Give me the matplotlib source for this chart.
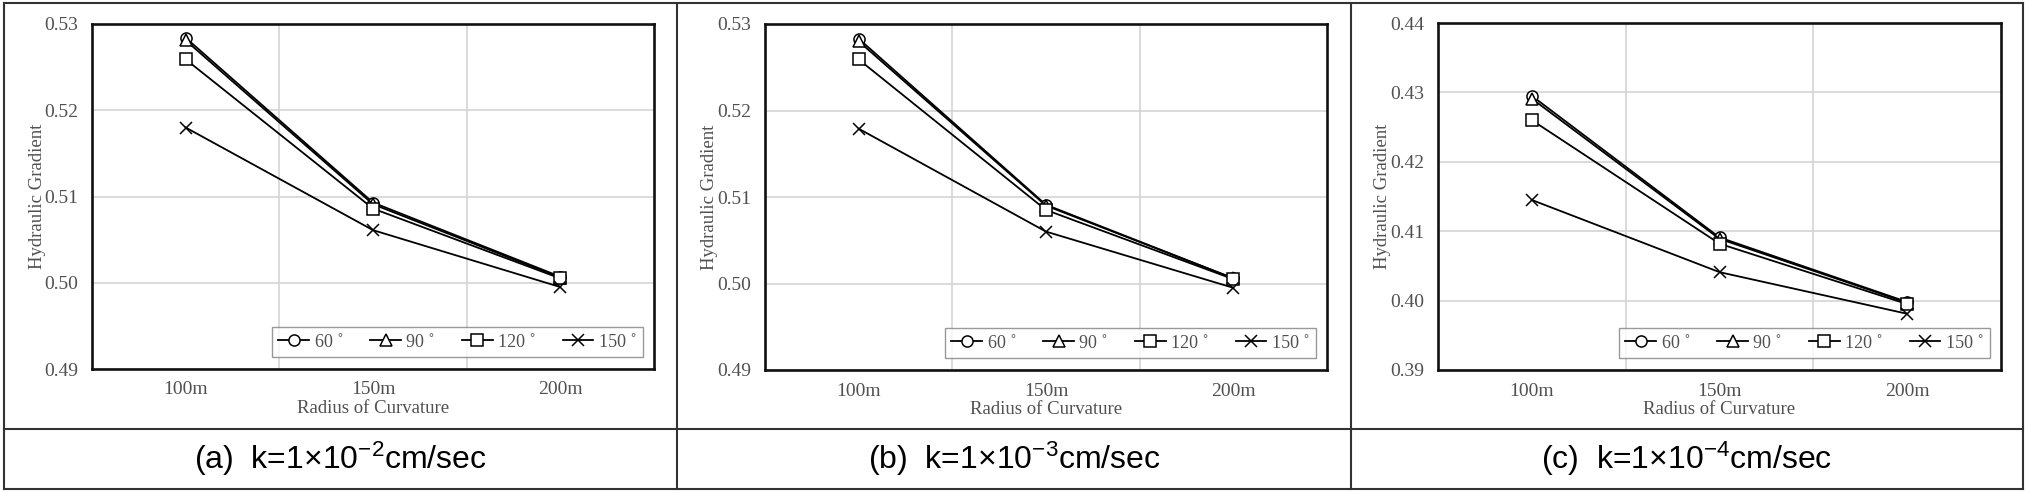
import numpy as np
import matplotlib
matplotlib.use("Agg")
import matplotlib.pyplot as plt
from matplotlib.lines import Line2D

# radius of curvature categories
radius = ["100m", "150m", "200m"]
angles = ["60 ˚", "90 ˚", "120 ˚", "150 ˚"]
markers = ["o", "^", "s", "x"]

# hydraulic gradient, one list per angle, for each permeability case
grad_a = [
    [0.5284, 0.5093, 0.5007],
    [0.5281, 0.5091, 0.5006],
    [0.5259, 0.5086, 0.5005],
    [0.5180, 0.5061, 0.4995],
]
grad_b = [
    [0.5283, 0.5091, 0.5006],
    [0.5280, 0.5090, 0.5006],
    [0.5259, 0.5085, 0.5005],
    [0.5179, 0.5060, 0.4995],
]
grad_c = [
    [0.4295, 0.4091, 0.3998],
    [0.4291, 0.4089, 0.3997],
    [0.4260, 0.4082, 0.3995],
    [0.4145, 0.4041, 0.3981],
]
yticks_ab = [0.49, 0.50, 0.51, 0.52, 0.53]
yticks_c = [0.39, 0.40, 0.41, 0.42, 0.43, 0.44]
captions = [r"(a)  k=1×10$^{-2}$cm/sec",
            r"(b)  k=1×10$^{-3}$cm/sec",
            r"(c)  k=1×10$^{-4}$cm/sec"]

plt.rcParams["mathtext.fontset"] = "custom"
plt.rcParams["mathtext.rm"] = "Liberation Sans"
plt.rcParams["mathtext.it"] = "Liberation Sans"
plt.rcParams["mathtext.bf"] = "Liberation Sans"

W, H = 2029, 493
fig = plt.figure(figsize=(W / 100, H / 100), dpi=100)

# axes boxes in pixels: left, right, top, bottom
boxes = [(92, 654, 24, 369), (765, 1327, 24, 370), (1438, 2001, 23, 370)]
datasets = [grad_a, grad_b, grad_c]
yticks_all = [yticks_ab, yticks_ab, yticks_c]

serif = "Liberation Serif"
txtcol = "#505050"
x = np.arange(1, len(radius) + 1)

for (l, r, t, b), data, yt in zip(boxes, datasets, yticks_all):
    ax = fig.add_axes([l / W, 1 - b / H, (r - l) / W, (b - t) / H])
    for vals, lab, m in zip(data, angles, markers):
        ax.plot(x, vals, color="black", lw=1.3, marker=m, markersize=8,
                markerfacecolor="white", markeredgecolor="black",
                markeredgewidth=1.1, label=lab)
    ax.set_xlim(0.5, 3.5)
    ax.set_ylim(yt[0], yt[-1])
    ax.set_xticks(x)
    ax.set_xticklabels(radius, fontfamily=serif, fontsize=14, color=txtcol)
    ax.set_xticks([1.5, 2.5], minor=True)
    ax.set_yticks(yt)
    ax.set_yticklabels([f"{v:.2f}" for v in yt], fontfamily=serif,
                       fontsize=14, color=txtcol)
    ax.tick_params(which="both", length=0)
    ax.tick_params(axis="y", pad=10)
    ax.tick_params(axis="x", pad=9)
    ax.grid(axis="y", which="major", color="#d4d4d4", lw=1.2)
    ax.grid(axis="x", which="minor", color="#d4d4d4", lw=1.2)
    ax.set_axisbelow(True)
    for s in ax.spines.values():
        s.set_linewidth(1.9)
        s.set_color("#111111")
    ax.set_ylabel("Hydraulic Gradient", fontfamily=serif, fontsize=13.5,
                  color=txtcol, labelpad=-1)
    ax.set_xlabel("Radius of Curvature", fontfamily=serif, fontsize=13.5,
                  color=txtcol, labelpad=1)
    leg = ax.legend(loc="lower right", bbox_to_anchor=(0.98, 0.035),
                    ncol=4, frameon=True, fancybox=False, borderaxespad=0,
                    prop={"family": serif, "size": 13}, handlelength=1.7,
                    handletextpad=0.3, columnspacing=1.5, borderpad=0.35,
                    labelcolor=txtcol)
    leg.get_frame().set_edgecolor("#808080")
    leg.get_frame().set_linewidth(1.0)

# table borders
def hline(y, x0, x1):
    fig.add_artist(Line2D([x0 / W, x1 / W], [1 - y / H, 1 - y / H],
                          color="#333333", lw=1.5))

def vline(xp, y0, y1):
    fig.add_artist(Line2D([xp / W, xp / W], [1 - y0 / H, 1 - y1 / H],
                          color="#333333", lw=1.5))

hline(3, 4, 2023)
hline(429, 4, 2023)
hline(489, 4, 2023)
for xp in [4, 677, 1351, 2023]:
    vline(xp, 3, 489)

centers = [340.5, 1014, 1687]
for cx, cap in zip(centers, captions):
    fig.text(cx / W, 1 - 459 / H, cap, ha="center", va="center",
             fontfamily="Liberation Sans", fontsize=23, color="black")

fig.savefig("out.png", dpi=100)
